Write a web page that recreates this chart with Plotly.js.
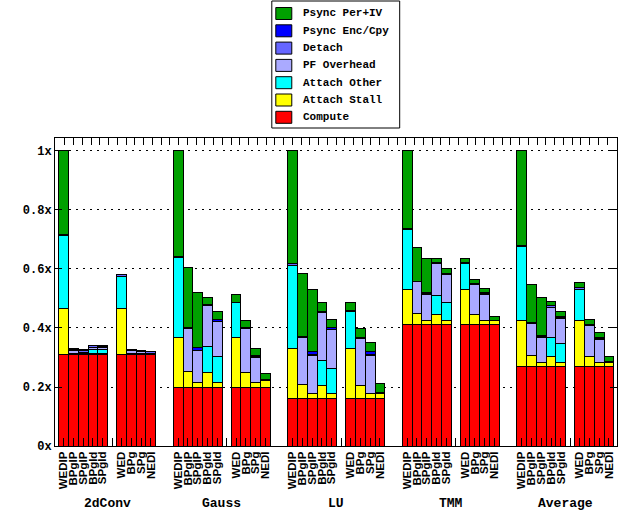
<!DOCTYPE html>
<html>
<head>
<meta charset="utf-8">
<script src="https://cdn.plot.ly/plotly-3.0.1.min.js"></script>
<style>html,body{margin:0;padding:0;background:#fff;}#chart{width:623px;height:514px;}</style>
</head>
<body>
<div id="chart"></div>
<script>
// ---- data ----
var groups = ['2dConv', 'Gauss', 'LU', 'TMM', 'Average'];
var barLabels = ['WEDIP', 'BPgIP', 'SPgIP', 'BPgId', 'SPgId', 'WED', 'BPg', 'SPg', 'NEDI'];

var compute = [
  0.311, 0.311, 0.311, 0.311, 0.311, 0.311, 0.311, 0.311, 0.311,
  0.200, 0.200, 0.200, 0.200, 0.200, 0.200, 0.200, 0.200, 0.200,
  0.162, 0.162, 0.162, 0.162, 0.162, 0.162, 0.162, 0.162, 0.162,
  0.412, 0.412, 0.412, 0.412, 0.412, 0.412, 0.412, 0.412, 0.412,
  0.269, 0.269, 0.269, 0.269, 0.269, 0.269, 0.269, 0.269, 0.269
];
var attachStall = [
  0.156, 0.004, 0.003, 0.004, 0.003, 0.156, 0.004, 0.003, 0.003,
  0.167, 0.053, 0.016, 0.048, 0.016, 0.167, 0.048, 0.016, 0.021,
  0.169, 0.047, 0.016, 0.042, 0.016, 0.169, 0.042, 0.016, 0.016,
  0.119, 0.038, 0.012, 0.034, 0.012, 0.119, 0.034, 0.012, 0.012,
  0.155, 0.038, 0.015, 0.035, 0.015, 0.155, 0.035, 0.015, 0.015
];
var attachOther = [
  0.246, 0, 0, 0.012, 0.012, 0.109, 0, 0, 0,
  0.273, 0, 0, 0.090, 0.089, 0.118, 0, 0, 0,
  0.281, 0, 0, 0.086, 0.084, 0.124, 0, 0, 0,
  0.203, 0, 0, 0.065, 0.063, 0.086, 0, 0, 0,
  0.251, 0, 0, 0.064, 0.062, 0.108, 0, 0, 0
];
var pfOverhead = [
  0, 0.008, 0.004, 0.008, 0.007, 0, 0.008, 0.005, 0,
  0, 0.146, 0.107, 0.138, 0.116, 0, 0.150, 0.085, 0,
  0, 0.159, 0.130, 0.161, 0.132, 0, 0.160, 0.130, 0,
  0, 0.107, 0.091, 0.107, 0.094, 0, 0.103, 0.090, 0,
  0, 0.107, 0.084, 0.103, 0.087, 0, 0.105, 0.078, 0
];
var detach = [
  0.004, 0.005, 0.005, 0.005, 0.005, 0.004, 0.005, 0.005, 0.005,
  0.004, 0.003, 0.002, 0.004, 0.002, 0.003, 0.003, 0.002, 0.003,
  0.006, 0.003, 0.002, 0.004, 0.002, 0.004, 0.003, 0.002, 0.003,
  0.004, 0.002, 0.003, 0.003, 0.004, 0.004, 0.003, 0.003, 0.003,
  0.005, 0.003, 0.002, 0.004, 0.003, 0.004, 0.003, 0.002, 0.003
];
var psyncEnc = [
  0, 0, 0.003, 0, 0, 0, 0, 0, 0,
  0, 0, 0.008, 0, 0.006, 0, 0, 0.005, 0,
  0, 0, 0.009, 0, 0.006, 0, 0, 0.009, 0,
  0, 0, 0.003, 0, 0, 0, 0, 0.002, 0,
  0, 0, 0.004, 0, 0.004, 0, 0, 0.004, 0
];
var psyncPer = [
  0.283, 0.003, 0, 0.002, 0.001, 0, 0, 0, 0,
  0.356, 0.204, 0.188, 0.024, 0.028, 0.026, 0.025, 0.023, 0.023,
  0.382, 0.214, 0.212, 0.030, 0.028, 0.028, 0.030, 0.032, 0.030,
  0.262, 0.114, 0.113, 0.013, 0.016, 0.013, 0.014, 0.014, 0.013,
  0.320, 0.131, 0.130, 0.014, 0.017, 0.018, 0.016, 0.018, 0.017
];

// ---- layout helpers (slot positions) ----
var GROUP_STEP = 11.73, SUB_GAP = 0.93;
var xpos = [], tickv = [], tickt = [];
groups.forEach(function (g, gi) {
  barLabels.forEach(function (lab, j) {
    var x = gi * GROUP_STEP + j + (j >= 5 ? SUB_GAP : 0);
    xpos.push(x);
    tickv.push(x); tickt.push(lab);
    if (j === 4) { tickv.push(gi * GROUP_STEP + 4.97); tickt.push(''); }
  });
});

var seriesDefs = [
  {name: 'Compute', y: compute, color: '#ff0000'},
  {name: 'Attach Stall', y: attachStall, color: '#ffff00'},
  {name: 'Attach Other', y: attachOther, color: '#00ffff'},
  {name: 'PF Overhead', y: pfOverhead, color: '#aaaaff'},
  {name: 'Detach', y: detach, color: '#6666ff'},
  {name: 'Psync Enc/Cpy', y: psyncEnc, color: '#0000ff'},
  {name: 'Psync Per+IV', y: psyncPer, color: '#00a000'}
];
var traces = seriesDefs.map(function (s) {
  return {
    type: 'bar', name: s.name, x: xpos, y: s.y, width: 1,
    marker: {color: s.color, line: {color: '#000', width: 1}},
    hoverinfo: 'name+y', showlegend: false
  };
});
// invisible trace for top mirrored ticks
var topTicks = [];
for (var k = 0; k <= 62; k++) topTicks.push(k);
traces.push({type: 'scatter', x: [0], y: [0], xaxis: 'x2', mode: 'markers',
  marker: {opacity: 0}, showlegend: false, hoverinfo: 'skip'});

var MONO = 'Liberation Mono, Courier New, monospace';
var mono = {family: MONO, size: 12, color: '#000', weight: 'bold'};

// pixel -> paper conversion for the legend box (plot area 55..617.5 x, 138..446 y)
function px(p) { return (p - 55) / 562.5; }
function py(p) { return (446 - p) / 308; }

var annotations = groups.map(function (g, gi) {
  return {text: g, x: gi * GROUP_STEP + 4.465, xref: 'x', y: py(504), yref: 'paper',
    xanchor: 'center', yanchor: 'middle', showarrow: false,
    font: {family: MONO, size: 13, color: '#000', weight: 'bold'}};
});

var shapes = [{type: 'rect', xref: 'paper', yref: 'paper', x0: px(272), x1: px(400), y0: py(128), y1: py(1),
  line: {color: '#000', width: 1}, fillcolor: '#fff', layer: 'above'}];
var legendItems = seriesDefs.slice().reverse();
legendItems.forEach(function (s, k) {
  var cy = 13.5 + 17.3 * k;
  shapes.push({type: 'rect', xref: 'paper', yref: 'paper', x0: px(276), x1: px(292), y0: py(cy + 6), y1: py(cy - 6),
    line: {color: '#000', width: 1}, fillcolor: s.color, layer: 'above'});
  annotations.push({text: s.name, xref: 'paper', yref: 'paper', x: px(301), y: py(cy),
    xanchor: 'left', yanchor: 'middle', showarrow: false,
    font: {family: MONO, size: 11, color: '#000', weight: 'bold'}});
});

var layout = {
  width: 623, height: 514,
  margin: {l: 55, r: 6, t: 138, b: 68},
  paper_bgcolor: '#fff', plot_bgcolor: '#fff',
  barmode: 'stack', bargap: 0,
  showlegend: false,
  xaxis: {
    range: [-0.89, 56.68], tickmode: 'array', tickvals: tickv, ticktext: tickt,
    tickangle: -90, ticks: 'inside', ticklen: 8, tickcolor: '#000',
    showline: true, linecolor: '#000', linewidth: 1, mirror: true,
    showgrid: false, zeroline: false,
    tickfont: {family: 'Liberation Sans, Arial, sans-serif', size: 11.5, color: '#000', weight: 'bold'}
  },
  xaxis2: {
    overlaying: 'x', side: 'top', range: [-1.143, 63.14], tickmode: 'array', tickvals: topTicks,
    ticks: 'inside', ticklen: 7, tickcolor: '#000', showticklabels: false,
    showgrid: false, zeroline: false, showline: false
  },
  yaxis: {
    range: [0, 1.044], tickmode: 'array', tickvals: [0, 0.2, 0.4, 0.6, 0.8, 1],
    ticktext: ['0x', '0.2x', '0.4x', '0.6x', '0.8x', '1x'],
    ticks: 'inside', ticklen: 7, tickcolor: '#000',
    showline: true, linecolor: '#000', linewidth: 1, mirror: 'ticks',
    showgrid: true, gridcolor: '#000', gridwidth: 1, griddash: '2px,5px',
    zeroline: false, tickfont: mono
  },
  shapes: shapes,
  annotations: annotations
};

Plotly.newPlot('chart', traces, layout, {displayModeBar: false, staticPlot: true});
</script>
</body>
</html>
